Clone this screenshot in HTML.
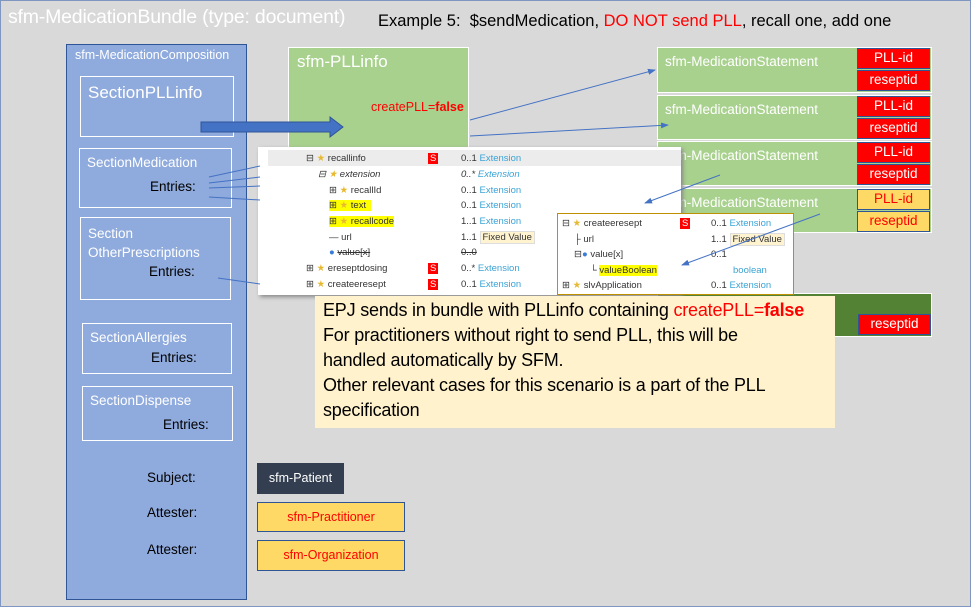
<!DOCTYPE html>
<html><head><meta charset="utf-8"><style>
body{margin:0;width:973px;height:609px;overflow:hidden;font-family:"Liberation Sans",sans-serif;}
#c{position:absolute;left:0;top:0;width:969px;height:605px;background:#d9d9d9;border:1px solid #7f96c0;}
.a{position:absolute;box-sizing:border-box;}
.w{color:#fff}
.sec{border:1.5px solid #fff;}
.ms{background:#a9d18e;border:1px solid #fff;color:#fff;font-size:13.5px;padding:6px 0 0 7px;}
.tag{position:absolute;left:199px;width:73px;height:21px;background:#f00;border:1.5px solid #2f5597;color:#fff;font-size:13.5px;text-align:center;line-height:18px;box-sizing:border-box;}
.y{background:#ffd966;color:#f00}
.t{position:absolute;font-size:9.5px;color:#333;white-space:nowrap}
.e{color:#3aa3d6}
.S{background:#f00;color:#fff;padding:0 2px}
.hl{background:#ff0}
</style></head><body>
<div id="c"></div>
<div class="a w" style="left:8px;top:6px;font-size:19.5px;letter-spacing:-0.2px">sfm-MedicationBundle (type: document)</div>
<div class="a" style="left:378px;top:12px;font-size:16.5px">Example 5:&nbsp; $sendMedication, <span style="color:#f00">DO NOT send PLL</span>, recall one, add one</div>

<div class="a" style="left:66px;top:44px;width:181px;height:556px;background:#8faadc;border:1px solid #2f5597"></div>
<div class="a w" style="left:75px;top:48px;font-size:12.5px">sfm-MedicationComposition</div>
<div class="a sec" style="left:80px;top:76px;width:154px;height:61px"><div class="w" style="font-size:17px;padding:6px 0 0 7px">SectionPLLinfo</div></div>
<div class="a sec" style="left:79px;top:148px;width:153px;height:60px"><div class="w" style="font-size:13.5px;padding:6px 0 0 7px">SectionMedication</div><div style="position:absolute;left:70px;top:30px;font-size:13.5px">Entries:</div></div>
<div class="a sec" style="left:80px;top:217px;width:151px;height:83px"><div class="w" style="font-size:13.5px;padding:6px 0 0 7px;line-height:19px">Section<br>OtherPrescriptions</div><div style="position:absolute;left:68px;top:46px;font-size:13.5px">Entries:</div></div>
<div class="a sec" style="left:82px;top:323px;width:150px;height:51px"><div class="w" style="font-size:13.5px;padding:6px 0 0 7px">SectionAllergies</div><div style="position:absolute;left:68px;top:26px;font-size:13.5px">Entries:</div></div>
<div class="a sec" style="left:82px;top:386px;width:151px;height:55px"><div class="w" style="font-size:13.5px;padding:6px 0 0 7px">SectionDispense</div><div style="position:absolute;left:80px;top:30px;font-size:13.5px">Entries:</div></div>
<div class="a" style="left:147px;top:470px;font-size:13.5px">Subject:</div>
<div class="a" style="left:147px;top:505px;font-size:13.5px">Attester:</div>
<div class="a" style="left:147px;top:542px;font-size:13.5px">Attester:</div>
<div class="a w" style="left:257px;top:463px;width:87px;height:31px;background:#333f50;font-size:12.5px;text-align:center;line-height:30px">sfm-Patient</div>
<div class="a" style="left:257px;top:502px;width:148px;height:30px;background:#ffd966;border:1px solid #2f5597;color:#f00;font-size:12.5px;text-align:center;line-height:28px">sfm-Practitioner</div>
<div class="a" style="left:257px;top:540px;width:148px;height:31px;background:#ffd966;border:1px solid #2f5597;color:#f00;font-size:12.5px;text-align:center;line-height:29px">sfm-Organization</div>

<div class="a" style="left:288px;top:47px;width:181px;height:103px;background:#a9d18e;border:1px solid #fff"></div>
<div class="a w" style="left:297px;top:52px;font-size:17px">sfm-PLLinfo</div>
<div class="a" style="left:371px;top:100px;font-size:12.5px;color:#f00">createPLL=<b>false</b></div>

<div class="a ms" style="left:657px;top:47px;width:275px;height:46px">sfm-MedicationStatement<div class="tag" style="top:0">PLL-id</div><div class="tag" style="top:22px">reseptid</div></div>
<div class="a ms" style="left:657px;top:95px;width:275px;height:45px">sfm-MedicationStatement<div class="tag" style="top:0">PLL-id</div><div class="tag" style="top:22px">reseptid</div></div>
<div class="a ms" style="left:657px;top:141px;width:275px;height:45px">sfm-MedicationStatement<div class="tag" style="top:0">PLL-id</div><div class="tag" style="top:22px">reseptid</div></div>
<div class="a ms" style="left:657px;top:188px;width:275px;height:45px">sfm-MedicationStatement<div class="tag y" style="top:0">PLL-id</div><div class="tag y" style="top:22px">reseptid</div></div>
<div class="a" style="left:657px;top:293px;width:275px;height:44px;background:#548235;border:1px solid #fff"><div class="tag" style="top:20px;left:200px">reseptid</div></div>

<div class="a" style="left:258px;top:147px;width:423px;height:148px;background:#fff;box-shadow:2px 2px 4px #888"></div>
<div class="a" style="left:268px;top:150px;width:413px;height:16px;background:#ececec"></div>
<div class="t" style="left:306px;top:153px">⊟ <span style="color:#e8b830">★</span> recallinfo</div><div class="t S" style="left:428px;top:153px">S</div><div class="t" style="left:461px;top:153px">0..1 <span class="e">Extension</span></div>
<div class="t" style="left:318px;top:169px;font-style:italic">⊟ <span style="color:#e8b830">★</span> extension</div><div class="t" style="left:461px;top:169px;font-style:italic">0..* <span class="e">Extension</span></div>
<div class="t" style="left:329px;top:185px">⊞ <span style="color:#e8b830">★</span> recallId</div><div class="t" style="left:461px;top:185px">0..1 <span class="e">Extension</span></div>
<div class="t hl" style="left:329px;top:200px">⊞ <span style="color:#e8b830">★</span> text&nbsp;&nbsp;</div><div class="t" style="left:461px;top:200px">0..1 <span class="e">Extension</span></div>
<div class="t hl" style="left:329px;top:216px">⊞ <span style="color:#e8b830">★</span> recallcode</div><div class="t" style="left:461px;top:216px">1..1 <span class="e">Extension</span></div>
<div class="t" style="left:329px;top:232px">— url</div><div class="t" style="left:461px;top:232px">1..1 <span style="background:#fff3d0;border:1px solid #ddd;padding:0 2px">Fixed Value</span></div>
<div class="t" style="left:329px;top:247px"><span style="color:#3a7bd5">●</span> <s>value[x]</s></div><div class="t" style="left:461px;top:247px"><s>0..0</s></div>
<div class="t" style="left:306px;top:263px">⊞ <span style="color:#e8b830">★</span> ereseptdosing</div><div class="t S" style="left:428px;top:263px">S</div><div class="t" style="left:461px;top:263px">0..* <span class="e">Extension</span></div>
<div class="t" style="left:306px;top:279px">⊞ <span style="color:#e8b830">★</span> createeresept</div><div class="t S" style="left:428px;top:279px">S</div><div class="t" style="left:461px;top:279px">0..1 <span class="e">Extension</span></div>

<div class="a" style="left:557px;top:213px;width:237px;height:82px;background:#fff;border:1px solid #bf9000"></div>
<div class="t" style="left:562px;top:218px">⊟ <span style="color:#e8b830">★</span> createeresept</div><div class="t S" style="left:680px;top:218px">S</div><div class="t" style="left:711px;top:218px">0..1 <span class="e">Extension</span></div>
<div class="t" style="left:574px;top:234px">├ url</div><div class="t" style="left:711px;top:234px">1..1 <span style="background:#fff3d0;border:1px solid #ddd;padding:0 2px">Fixed Value</span></div>
<div class="t" style="left:574px;top:249px">⊟<span style="color:#3a7bd5">●</span> value[x]</div><div class="t" style="left:711px;top:249px">0..1</div>
<div class="t" style="left:590px;top:265px">└ <span class="hl">valueBoolean</span></div><div class="t e" style="left:733px;top:265px">boolean</div>
<div class="t" style="left:562px;top:280px">⊞ <span style="color:#e8b830">★</span> slvApplication</div><div class="t" style="left:711px;top:280px">0..1 <span class="e">Extension</span></div>

<div class="a" style="left:315px;top:296px;width:520px;height:132px;background:#fff2cc;padding:2px 0 0 8px;font-size:18px;line-height:25px;letter-spacing:-0.2px;white-space:nowrap">EPJ sends in bundle with PLLinfo containing <span style="color:#f00">createPLL=<b>false</b></span><br>For practitioners without right to send PLL, this will be<br>handled automatically by SFM.<br>Other relevant cases for this scenario is a part of the PLL<br>specification</div>

<svg class="a" style="left:0;top:0" width="973" height="609">
<defs><marker id="m" markerWidth="8" markerHeight="8" refX="7" refY="4" orient="auto"><path d="M0,1 L8,4 L0,7z" fill="#4472c4"/></marker></defs>
<g stroke="#4472c4" stroke-width="1" fill="none">
<line x1="209" y1="177" x2="260" y2="166"/><line x1="209" y1="183" x2="260" y2="177"/><line x1="209" y1="188" x2="260" y2="186"/><line x1="209" y1="197" x2="260" y2="200"/>
<line x1="218" y1="278" x2="260" y2="284"/>
<line x1="470" y1="120" x2="655" y2="70" marker-end="url(#m)"/>
<line x1="470" y1="136" x2="668" y2="125" marker-end="url(#m)"/>
<line x1="720" y1="175" x2="645" y2="203" marker-end="url(#m)"/>
<line x1="820" y1="214" x2="682" y2="265" marker-end="url(#m)"/>
</g>
<path d="M201,122 L330,122 L330,117 L343,127 L330,137 L330,132 L201,132z" fill="#4472c4" stroke="#2f5597"/>
</svg>
</body></html>
